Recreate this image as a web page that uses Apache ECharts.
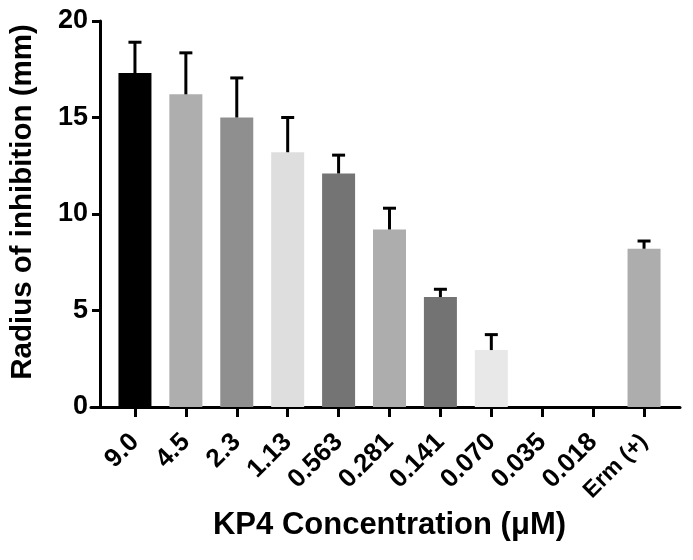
<!DOCTYPE html>
<html>
<head>
<meta charset="utf-8">
<script src="https://cdn.jsdelivr.net/npm/echarts@6/dist/echarts.min.js"></script>
<style>
html,body{margin:0;padding:0;background:#fff;}
#chart{width:693px;height:560px;}
</style>
</head>
<body>
<div id="chart"></div>
<script>
var categories = ['9.0','4.5','2.3','1.13','0.563','0.281','0.141','0.070','0.035','0.018','Erm (+)'];
var means = [17.3, 16.2, 15.0, 13.2, 12.1, 9.2, 5.7, 2.95, 0, 0, 8.2];
var errors = [1.6, 2.15, 2.05, 1.8, 0.95, 1.1, 0.4, 0.8, 0, 0, 0.4];
var barColors = ['#000000','#aeaeae','#8f8f8f','#dedede','#747474','#adadad','#737373','#e8e8e8','#adadad','#adadad','#adadad'];
var yTicks = [0, 5, 10, 15, 20];

var FONT = '"Liberation Sans", Arial, sans-serif';
var chart = echarts.init(document.getElementById('chart'), null, {renderer:'canvas'});

var barData = means.map(function(v, i){ return {value: v, itemStyle: {color: barColors[i]}}; });
var errData = means.map(function(v, i){ return [i, v, v + errors[i]]; });

chart.setOption({
  animation: false,
  backgroundColor: '#ffffff',
  grid: [
    {left: 108.5, right: 23.5, top: 21, bottom: 153, containLabel: false},
    {left: 91, right: 13, top: 21, bottom: 153, containLabel: false}
  ],
  xAxis: [
    {
      type: 'category', gridIndex: 0, data: categories,
      axisLine: {show: false},
      axisTick: {show: true, alignWithLabel: true, length: 10, lineStyle: {color: '#000', width: 3}},
      axisLabel: {rotate: 45, color: '#000', fontFamily: FONT, fontWeight: 'bold', fontSize: 26, margin: 31, interval: 0,
        formatter: function(v){ return v.indexOf('Erm') === 0 ? '{s|' + v + '}' : v; },
        rich: {s: {fontFamily: FONT, fontWeight: 'bold', fontSize: 23, color: '#000'}}
      },
      name: 'KP4 Concentration (μM)', nameLocation: 'middle', nameGap: 100,
      nameTextStyle: {color: '#000', fontFamily: FONT, fontWeight: 'bold', fontSize: 31}
    },
    {
      type: 'value', gridIndex: 1, min: 0, max: 1,
      axisLine: {show: true, lineStyle: {color: '#000', width: 3}},
      axisTick: {show: false}, axisLabel: {show: false}, splitLine: {show: false}
    }
  ],
  yAxis: [
    {
      type: 'value', gridIndex: 0, min: 0, max: 20, interval: 5, offset: 9.5,
      axisLine: {show: true, lineStyle: {color: '#000', width: 3}},
      axisTick: {show: true, length: 8, lineStyle: {color: '#000', width: 3}},
      axisLabel: {color: '#000', fontFamily: FONT, fontWeight: 'bold', fontSize: 27, margin: 12,
        formatter: function(v){ return yTicks.indexOf(v) >= 0 ? String(v) : ''; }},
      splitLine: {show: false},
      name: 'Radius of inhibition (mm)', nameLocation: 'middle', nameGap: 62,
      nameTextStyle: {color: '#000', fontFamily: FONT, fontWeight: 'bold', fontSize: 29.5, padding: [0, 0, 0, 24]}
    },
    {
      type: 'value', gridIndex: 1, min: 0, max: 1, show: false
    }
  ],
  series: [
    {
      type: 'bar', xAxisIndex: 0, yAxisIndex: 0, data: barData, barWidth: 33, z: 2
    },
    {
      type: 'custom', xAxisIndex: 0, yAxisIndex: 0, data: errData, z: 3,
      renderItem: function(params, api){
        var lo = api.coord([api.value(0), api.value(1)]);
        var hi = api.coord([api.value(0), api.value(2)]);
        if (api.value(2) - api.value(1) <= 0) return null;
        var half = 6.5;
        return {
          type: 'group',
          children: [
            {type: 'line', shape: {x1: lo[0], y1: lo[1], x2: hi[0], y2: hi[1]}, style: {stroke: '#000', lineWidth: 3}},
            {type: 'line', shape: {x1: hi[0] - half, y1: hi[1], x2: hi[0] + half, y2: hi[1]}, style: {stroke: '#000', lineWidth: 3}}
          ]
        };
      }
    }
  ]
});
</script>
</body>
</html>
